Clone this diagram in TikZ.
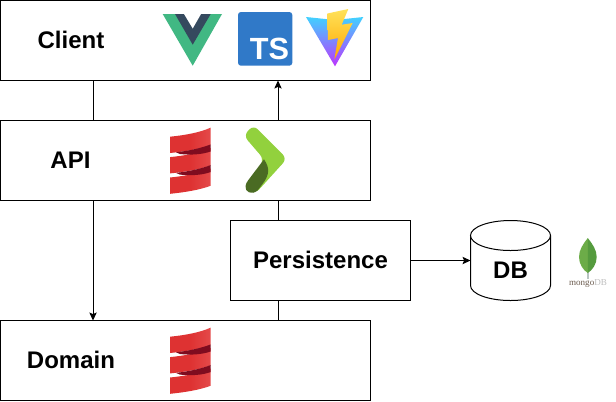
\documentclass[tikz,border=0pt]{standalone}
\usepackage{fontspec}
\setmainfont{Liberation Sans}
\newfontfamily\mongofont{Liberation Serif}
\usetikzlibrary{arrows.meta}
\definecolor{vuegreen}{HTML}{41B883}
\definecolor{vuedark}{HTML}{35495E}
\definecolor{tsblue}{HTML}{3079C8}
\definecolor{viteblue}{HTML}{41D1FF}
\definecolor{vitepurple}{HTML}{BD34FE}
\definecolor{boltlight}{HTML}{FFE25A}
\definecolor{boltdark}{HTML}{FFA800}
\definecolor{scalared}{HTML}{DE3232}
\definecolor{scalalight}{HTML}{E44A4A}
\definecolor{scaladark}{HTML}{7F0C1F}
\definecolor{playlight}{HTML}{92D13D}
\definecolor{playdark}{HTML}{4A6B23}
\definecolor{leaflight}{HTML}{6CAC48}
\definecolor{leafdark}{HTML}{559B3E}
\definecolor{leafstem}{HTML}{B8C4C2}
\definecolor{mongotext}{HTML}{6B5B4E}
\definecolor{mongolight}{HTML}{BDBDBD}
\tikzset{
  boxnode/.style={draw=black,line width=.75pt,fill=white,rectangle,inner sep=0pt,outer sep=0pt,minimum width=#1*.75pt,minimum height=60pt},
  lbl/.style={inner sep=0pt,font=\fontsize{18}{20}\selectfont\bfseries,text=black},
  conn/.style={line width=.75pt,draw=black},
  arrowconn/.style={conn,-{Stealth[length=6pt,width=5.5pt,inset=1.2pt]}},
  scalaicon/.pic={
    \foreach \d in {0,20.4,40.8}{
      \shade[left color=scalared,right color=scalalight,middle color=scalared]
        (0,16.7+\d) .. controls (15,15.2+\d) and (30,12.5+\d) .. (40.5,7.7+\d) -- (40.5,25+\d)
        .. controls (30,29+\d) and (15,31.5+\d) .. (0,33+\d) -- cycle;
    }
    \foreach \d in {0,20.6}{
      \fill[scaladark] (6,32.3+\d) .. controls (17,31+\d) and (30,28.5+\d) .. (40.5,24.5+\d) -- (40.5,31.5+\d)
        .. controls (32,34.5+\d) and (21,35.2+\d) .. (10,34+\d) -- cycle;
    }
  }
}
\begin{document}
\begin{tikzpicture}[x=.75pt,y=-.75pt]
\useasboundingbox (0,0) rectangle (616,401);
\coordinate (leftx) at (93,0);
\coordinate (rightx) at (278,0);

% boxes
\node[boxnode=370] (client) at (185.5,40.5) {};
\node[boxnode=370] (api) at (185.5,160.5) {};
\node[boxnode=370] (domain) at (185.5,360.5) {};
\node[boxnode=180] (persist) at (320.5,260.5) {};
\node[inner sep=0pt,outer sep=0pt,minimum width=60pt,minimum height=60pt] (db) at (510.5,260.5) {};

% cylinder
\draw[line width=.75pt,fill=white] (470.5,235.5) -- (470.5,285.5)
  arc[start angle=180,end angle=360,x radius=30pt,y radius=11.25pt] -- (550.5,235.5);
\draw[line width=.75pt,fill=white] (510.5,235.5) ellipse [x radius=30pt,y radius=11.25pt];

% connectors
\draw[conn] (client.south -| leftx) -- (api.north -| leftx);
\draw[arrowconn] (api.south -| leftx) -- (domain.north -| leftx);
\draw[arrowconn] (api.north -| rightx) -- (client.south -| rightx);
\draw[conn] (api.south -| rightx) -- (persist.north -| rightx);
\draw[conn] (persist.south -| rightx) -- (domain.north -| rightx);
\draw[arrowconn] (persist.east) -- (db.west);

% labels
\node[lbl] (clientlabel) at (71,40) {Client};
\node[lbl] (apilabel) at (70.5,160) {API};
\node[lbl] (domainlabel) at (71,360) {Domain};
\node[lbl] (persistlabel) at (320.5,260) {Persistence};
\node[lbl] (dblabel) at (510.5,270) {DB};

% Vue
\fill[vuegreen] (162.7,14) -- (222,14) -- (192.7,65.7) -- cycle;
\fill[vuedark] (175,14) -- (210.7,14) -- (192.7,44.7) -- cycle;
\fill[white] (184,14) -- (201,14) -- (192.7,28.5) -- cycle;

% TypeScript
\fill[tsblue,rounded corners=2.2pt] (238,12) rectangle (292.3,65.7);
\node[inner sep=0pt,text=white,font=\fontsize{23}{24}\selectfont\bfseries] (tslabel) at (269.5,49) {TS};

% Vite
\shade[shading angle=35,top color=viteblue,middle color=vitepurple!65!viteblue,bottom color=vitepurple]
  (306,17) -- (335,20) -- (363.3,17) -- (335,66.3) -- cycle;
\shade[top color=boltlight,bottom color=boltdark]
  (327.3,13.5) -- (348.3,9) -- (341.7,24.7) -- (352.7,23) -- (334.3,59.7) -- (338,38) -- (328,40) -- cycle;

% Scala
\pic at (170,120) {scalaicon};
\pic at (170,320) {scalaicon};

% Play
\fill[playlight,rounded corners=4.5pt] (253.5,125) -- (287,158.7) -- (255,194) -- (249,186) -- (264,159.3) -- (243.6,135.6) -- cycle;
\fill[playdark] (264,159.3) .. controls (270,168) and (269.5,175) .. (262.5,184)
  -- (257.5,190.5) .. controls (252,195.5) and (244.5,192) .. (245.5,186)
  .. controls (245.7,184) and (247,182) .. (248,180.5) -- cycle;

% MongoDB leaf
\fill[leafstem] (587.2,268) rectangle (588.8,279);
\fill[leaflight] (587.8,238) .. controls (583,244) and (579,250) .. (579,257) .. controls (579,264) and (583,270) .. (587.8,273) -- cycle;
\fill[leafdark] (587.8,238) .. controls (592.5,244) and (596.7,250) .. (596.7,257) .. controls (596.7,264) and (592.5,270) .. (587.8,273) -- cycle;
\node[inner sep=0pt,font=\fontsize{6.8}{8}\selectfont\mongofont] (mongolabel) at (588,283) {\textcolor{mongotext}{mongo}\textcolor{mongolight}{DB}};
\end{tikzpicture}
\end{document}
